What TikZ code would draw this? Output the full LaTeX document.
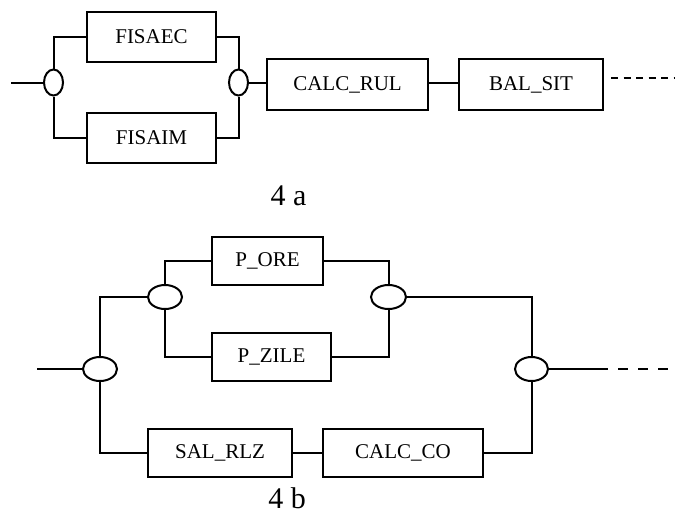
\documentclass[tikz,border=0pt]{standalone}
\usepackage{fontspec}
\setmainfont{Liberation Serif}
\usetikzlibrary{shapes.geometric}
\begin{document}
\begin{tikzpicture}[x=1pt,y=-1pt,
  line width=2pt,
  blk/.style={draw,rectangle,inner sep=0pt,minimum height=50pt,font=\fontsize{21}{24}\selectfont},
  junc/.style={draw,ellipse,inner sep=0pt},
  cap4/.style={font=\fontsize{30}{34}\selectfont}]
\useasboundingbox (0,0) rectangle (676,514);
% ---------- 4 a ----------
\node[junc,minimum width=19pt,minimum height=26pt] (e1) at (53.5,82.5) {};
\node[blk,minimum width=129pt] (fisaec) at (151.5,37) {FISAEC};
\node[blk,minimum width=129pt] (fisaim) at (151.5,138) {FISAIM};
\node[junc,minimum width=19pt,minimum height=26pt] (e2) at (238.5,82.5) {};
\node[blk,minimum width=161pt,minimum height=51pt] (calcrul) at (347.5,84.5) {CALC\_RUL};
\node[blk,minimum width=144pt,minimum height=51pt] (balsit) at (531,84.5) {BAL\_SIT};
\coordinate (ina) at (11,82.5);
\coordinate (da1) at (611,78);
\coordinate (da2) at (674,78);
\draw (ina) -- (e1.west);
\draw (e1.north) |- (fisaec.west);
\draw (e1.south) |- (fisaim.west);
\draw (fisaec.east) -| (e2.north);
\draw (fisaim.east) -| (e2.south);
\draw (e2.east) -- (e2.east -| calcrul.west);
\draw (calcrul.east |- e2.east) -- (balsit.west |- e2.east);
\draw[line width=2.2pt,dash pattern=on 7pt off 5.5pt] (da1) -- (da2);
\node[cap4] (la) at (288.5,196) {4 a};
% ---------- 4 b ----------
\node[junc,minimum width=34pt,minimum height=24pt] (eA) at (100,369) {};
\node[junc,minimum width=34pt,minimum height=24pt] (eB) at (165,297) {};
\node[junc,minimum width=35pt,minimum height=24pt] (eC) at (388.5,297) {};
\node[junc,minimum width=33pt,minimum height=24pt] (eD) at (531.5,369) {};
\node[blk,minimum width=111pt,minimum height=48pt] (pore) at (267.5,261) {P\_ORE};
\node[blk,minimum width=119pt,minimum height=48pt] (pzile) at (271.5,357) {P\_ZILE};
\node[blk,minimum width=144pt,minimum height=48pt] (salrlz) at (220,453) {SAL\_RLZ};
\node[blk,minimum width=160pt,minimum height=48pt] (calcco) at (403,453) {CALC\_CO};
\coordinate (inb) at (37,369);
\coordinate (s1) at (598,369);
\coordinate (s2) at (669,369);
\draw (inb) -- (eA.west);
\draw (eA.north) |- (eB.west);
\draw (eB.north) |- (pore.west);
\draw (eB.south) |- (pzile.west);
\draw (eA.south) |- (salrlz.west);
\draw (salrlz.east) -- (calcco.west);
\draw (pore.east) -| (eC.north);
\draw (pzile.east) -| (eC.south);
\draw (eC.east) -| (eD.north);
\draw (calcco.east) -| (eD.south);
\draw (eD.east) -- (s1);
\draw[line width=2.8pt,dash pattern=on 10pt off 10pt] (s1) -- (s2);
\node[cap4] (lb) at (287,498) {4 b};
\end{tikzpicture}
\end{document}
